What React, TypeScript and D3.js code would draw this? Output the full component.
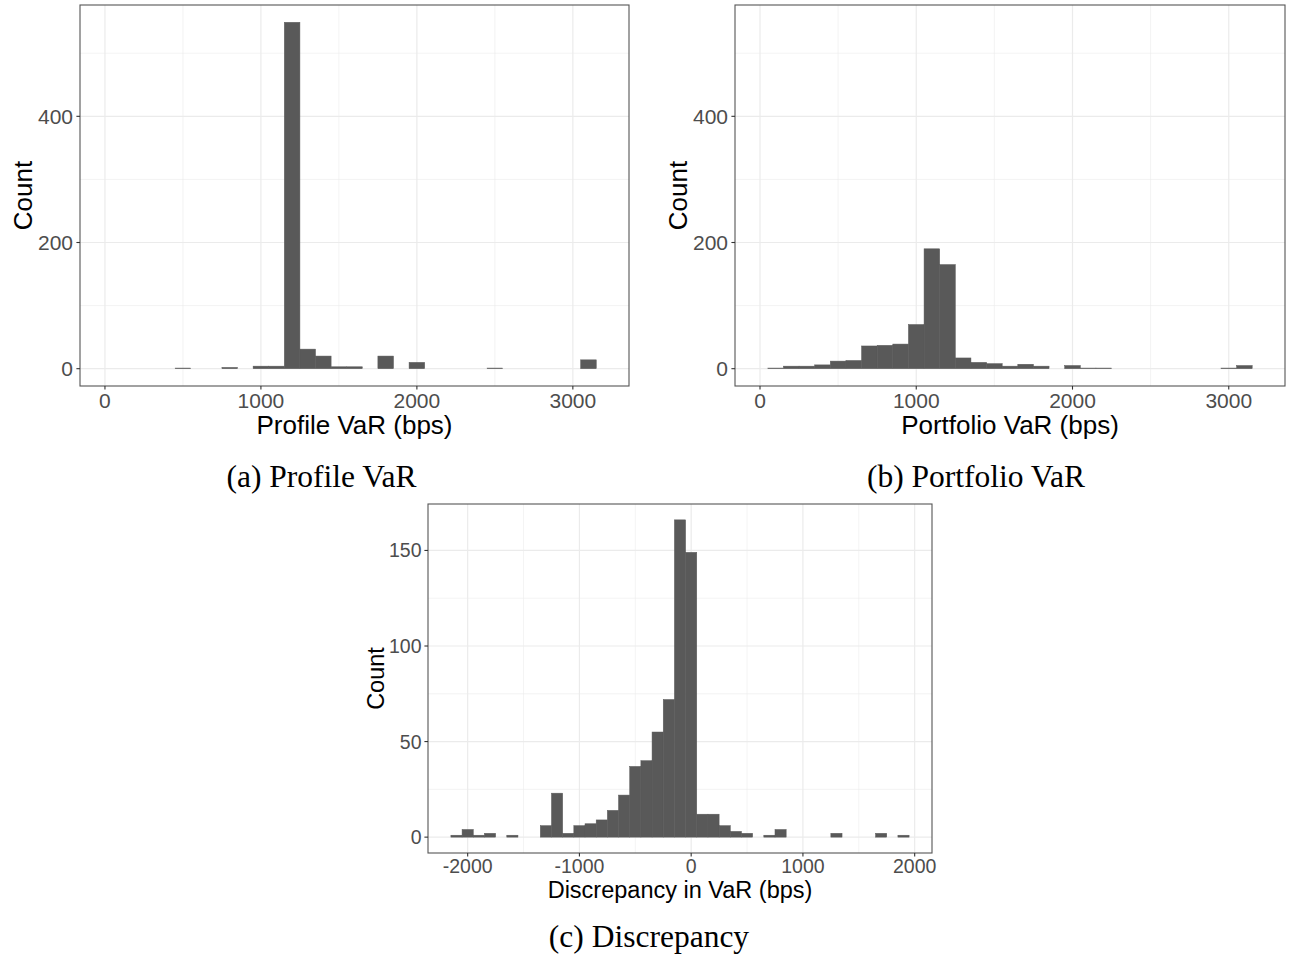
import React from "react";
import * as d3 from "d3";

// ---------- data ----------
const binWidth = 100;

const profileBins = [500, 800, 1000, 1100, 1200, 1300, 1400, 1500, 1600, 1800, 2000, 2500, 3100];
const profileCounts = [1, 2, 4, 4, 549, 31, 20, 3, 3, 20, 10, 1, 14];

const portfolioBins = [100, 200, 300, 400, 500, 600, 700, 800, 900, 1000, 1100, 1200, 1300, 1400, 1500, 1600, 1700, 1800, 2000, 2100, 2200, 3000, 3100];
const portfolioCounts = [1, 4, 4, 6, 12, 13, 36, 37, 39, 70, 190, 165, 17, 10, 8, 4, 7, 4, 5, 1, 1, 1, 5];

const discBins = [-2100, -2000, -1900, -1800, -1600, -1300, -1200, -1100, -1000, -900, -800, -700, -600, -500, -400, -300, -200, -100, 0, 100, 200, 300, 400, 500, 700, 800, 1300, 1700, 1900];
const discCounts = [1, 4, 1, 2, 1, 6, 23, 2, 6, 7, 9, 14, 22, 37, 40, 55, 72, 166, 149, 12, 12, 6, 3, 2, 1, 4, 2, 2, 1];

const xTicksVaR = [0, 1000, 2000, 3000];
const yTicksVaR = [0, 200, 400];
const xTicksDisc = [-2000, -1000, 0, 1000, 2000];
const yTicksDisc = [0, 50, 100, 150];

const xLimitsVaR: [number, number] = [0, 3200];
const xLimitsDisc: [number, number] = [-2150, 1950];

const captions = ["(a) Profile VaR", "(b) Portfolio VaR", "(c) Discrepancy"];
const xTitles = ["Profile VaR (bps)", "Portfolio VaR (bps)", "Discrepancy in VaR (bps)"];

// ---------- styling ----------
const SANS = "'Liberation Sans', Arimo, Arial, sans-serif";
const SERIF = "'Liberation Serif', 'Times New Roman', serif";
const BAR = "#595959";
const GRID = "#ebebeb";
const BORDER = "#555555";
const TICKTXT = "#4d4d4d";

type HistProps = {
  box: { left: number; right: number; top: number; bottom: number };
  bins: number[];
  counts: number[];
  xLim: [number, number];
  yMax: number;
  xTicks: number[];
  yTicks: number[];
  xTitle: string;
  tickFont: number;
  titleFont: number;
  yLabelGap: number;
  xLabelDy: number;
  xTitleDy: number;
  yTitleX: number;
};

function Histogram(p: HistProps) {
  const { box } = p;
  const span = p.xLim[1] - p.xLim[0];
  const x = d3
    .scaleLinear()
    .domain([p.xLim[0] - 0.05 * span, p.xLim[1] + 0.05 * span])
    .range([box.left, box.right]);
  const y = d3
    .scaleLinear()
    .domain([-0.05 * p.yMax, 1.05 * p.yMax])
    .range([box.bottom, box.top]);

  const xStep = p.xTicks[1] - p.xTicks[0];
  const yStep = p.yTicks[1] - p.yTicks[0];
  const [xd0, xd1] = x.domain();
  const [yd0, yd1] = y.domain();
  const xMinor: number[] = [];
  for (let v = p.xTicks[0] - xStep / 2; v <= xd1; v += xStep) if (v >= xd0) xMinor.push(v);
  const yMinor: number[] = [];
  for (let v = p.yTicks[0] - yStep / 2; v <= yd1; v += yStep) if (v >= yd0) yMinor.push(v);

  const midY = (box.top + box.bottom) / 2;
  const midX = (box.left + box.right) / 2;
  const clipId = `clip-${box.left}-${box.top}`;

  return (
    <g>
      <defs>
        <clipPath id={clipId}>
          <rect x={box.left} y={box.top} width={box.right - box.left} height={box.bottom - box.top} />
        </clipPath>
      </defs>
      <rect x={box.left} y={box.top} width={box.right - box.left} height={box.bottom - box.top} fill="#fff" />
      <g clipPath={`url(#${clipId})`}>
        {yMinor.map((v) => (
          <line key={"ym" + v} x1={box.left} x2={box.right} y1={y(v)} y2={y(v)} stroke={GRID} strokeWidth={0.6} />
        ))}
        {xMinor.map((v) => (
          <line key={"xm" + v} y1={box.top} y2={box.bottom} x1={x(v)} x2={x(v)} stroke={GRID} strokeWidth={0.6} />
        ))}
        {p.yTicks.map((v) => (
          <line key={"yM" + v} x1={box.left} x2={box.right} y1={y(v)} y2={y(v)} stroke={GRID} strokeWidth={1.2} />
        ))}
        {p.xTicks.map((v) => (
          <line key={"xM" + v} y1={box.top} y2={box.bottom} x1={x(v)} x2={x(v)} stroke={GRID} strokeWidth={1.2} />
        ))}
        {p.bins.map((b, i) => (
          <rect
            key={"b" + b}
            x={x(b - binWidth / 2)}
            width={x(b + binWidth / 2) - x(b - binWidth / 2)}
            y={y(p.counts[i])}
            height={y(0) - y(p.counts[i])}
            fill={BAR}
            stroke={BAR}
            strokeWidth={0.5}
          />
        ))}
      </g>
      <rect
        x={box.left}
        y={box.top}
        width={box.right - box.left}
        height={box.bottom - box.top}
        fill="none"
        stroke={BORDER}
        strokeWidth={1.1}
      />
      {p.yTicks.map((v) => (
        <g key={"yt" + v}>
          <line x1={box.left - 3.6} x2={box.left} y1={y(v)} y2={y(v)} stroke="#333" strokeWidth={1.1} />
          <text
            x={box.left - p.yLabelGap}
            y={y(v)}
            dy="0.36em"
            textAnchor="end"
            fontFamily={SANS}
            fontSize={p.tickFont}
            fill={TICKTXT}
          >
            {v}
          </text>
        </g>
      ))}
      {p.xTicks.map((v) => (
        <g key={"xt" + v}>
          <line y1={box.bottom} y2={box.bottom + 3.6} x1={x(v)} x2={x(v)} stroke="#333" strokeWidth={1.1} />
          <text
            x={x(v)}
            y={box.bottom + p.xLabelDy}
            textAnchor="middle"
            fontFamily={SANS}
            fontSize={p.tickFont}
            fill={TICKTXT}
          >
            {v}
          </text>
        </g>
      ))}
      <text
        x={midX}
        y={box.bottom + p.xTitleDy}
        textAnchor="middle"
        fontFamily={SANS}
        fontSize={p.titleFont}
        fill="#000"
      >
        {p.xTitle}
      </text>
      <text
        transform={`translate(${p.yTitleX},${midY}) rotate(-90)`}
        textAnchor="middle"
        fontFamily={SANS}
        fontSize={p.titleFont}
        fill="#000"
      >
        Count
      </text>
    </g>
  );
}

export default function App() {
  const yMaxVaR = d3.max([...profileCounts, ...portfolioCounts]) as number;
  const yMaxDisc = d3.max(discCounts) as number;
  return (
    <svg
      width={1291}
      height={960}
      style={{ position: "absolute", left: 0, top: 0, background: "#fff" }}
    >
      <rect x={0} y={0} width={1291} height={960} fill="#fff" />
      <Histogram
        box={{ left: 80, right: 629, top: 5, bottom: 386 }}
        bins={profileBins}
        counts={profileCounts}
        xLim={xLimitsVaR}
        yMax={yMaxVaR}
        xTicks={xTicksVaR}
        yTicks={yTicksVaR}
        xTitle={xTitles[0]}
        tickFont={21}
        titleFont={26}
        yLabelGap={7}
        xLabelDy={22}
        xTitleDy={47.5}
        yTitleX={32}
      />
      <Histogram
        box={{ left: 735, right: 1285, top: 5, bottom: 386 }}
        bins={portfolioBins}
        counts={portfolioCounts}
        xLim={xLimitsVaR}
        yMax={yMaxVaR}
        xTicks={xTicksVaR}
        yTicks={yTicksVaR}
        xTitle={xTitles[1]}
        tickFont={21}
        titleFont={26}
        yLabelGap={7}
        xLabelDy={22}
        xTitleDy={47.5}
        yTitleX={686.5}
      />
      <Histogram
        box={{ left: 428, right: 932, top: 504, bottom: 853 }}
        bins={discBins}
        counts={discCounts}
        xLim={xLimitsDisc}
        yMax={yMaxDisc}
        xTicks={xTicksDisc}
        yTicks={yTicksDisc}
        xTitle={xTitles[2]}
        tickFont={19.5}
        titleFont={23.5}
        yLabelGap={6.5}
        xLabelDy={19.5}
        xTitleDy={45}
        yTitleX={384}
      />
      <text x={321.5} y={487} textAnchor="middle" fontFamily={SERIF} fontSize={31.5} fill="#000">
        {captions[0]}
      </text>
      <text x={976} y={487} textAnchor="middle" fontFamily={SERIF} fontSize={31.5} fill="#000">
        {captions[1]}
      </text>
      <text x={649} y={947} textAnchor="middle" fontFamily={SERIF} fontSize={31.5} fill="#000">
        {captions[2]}
      </text>
    </svg>
  );
}
